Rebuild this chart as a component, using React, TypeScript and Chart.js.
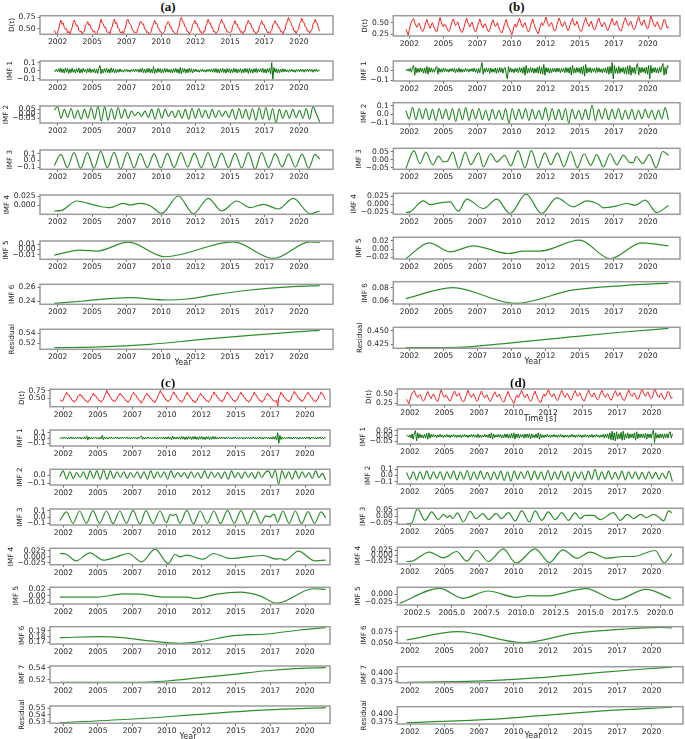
import React, { useEffect, useRef } from 'react';
import { Chart, registerables } from 'chart.js';
Chart.register(...registerables);

// ---------- shared axis data ----------
const T0 = 2002.25;
const T1 = 2021.5;
const YEAR_TICKS = [2002.5, 2005, 2007.5, 2010, 2012.5, 2015, 2017.5, 2020];
const YEAR_LABELS = ['2002', '2005', '2007', '2010', '2012', '2015', '2017', '2020'];
const YEAR_LABELS_DEC = ['2002.5', '2005.0', '2007.5', '2010.0', '2012.5', '2015.0', '2017.5', '2020.0'];

// ---------- panel (a) ----------
const A_DT = [
  .47,.43,.37,.44,.50,.62,
  .69,.60,.63,.53,.49,.51,.41,.45,.38,.47,.53,.64,
  .69,.62,.56,.58,.47,.44,.46,.39,.44,.45,.58,.60,
  .66,.58,.60,.51,.50,.43,.46,.40,.38,.46,.50,.62,
  .71,.63,.61,.53,.54,.45,.42,.44,.40,.50,.55,.66,
  .71,.62,.64,.52,.51,.44,.41,.45,.39,.48,.54,.67,
  .71,.64,.60,.58,.48,.47,.41,.43,.42,.51,.56,.65,
  .66,.60,.61,.50,.49,.42,.44,.39,.41,.44,.56,.60,
  .69,.61,.62,.52,.50,.44,.44,.38,.42,.45,.57,.60,
  .66,.63,.54,.55,.45,.45,.38,.40,.39,.49,.56,.70,
  .75,.66,.65,.55,.54,.45,.45,.39,.44,.46,.59,.62,
  .69,.61,.62,.53,.52,.43,.44,.38,.45,.45,.58,.62,
  .71,.63,.63,.53,.53,.44,.45,.39,.44,.46,.59,.63,
  .71,.63,.62,.52,.51,.43,.44,.42,.43,.44,.57,.60,
  .68,.60,.61,.52,.51,.43,.45,.39,.45,.45,.58,.61,
  .69,.62,.62,.53,.52,.44,.44,.38,.44,.44,.57,.60,
  .68,.60,.60,.51,.50,.42,.44,.37,.45,.47,.59,.62,
  .68,.61,.61,.53,.53,.44,.45,.39,.46,.48,.62,.66,
  .75,.67,.66,.56,.54,.45,.46,.40,.47,.49,.62,.65,
  .73,.65,.64,.55,.54,.45,.46,.40,.46,.48,.60,.63,
  .71,.63,.62,.51,.46,
];
const A_IMF1 = [
  .00,-.01,.02,-.015,.025,-.02,.03,-.025,.02,-.03,.035,-.02,
  .03,-.035,.02,-.025,.03,-.02,.015,-.03,.025,-.02,.035,-.03,
  .02,-.025,.03,-.015,.02,-.03,.025,-.02,.03,-.025,.015,-.02,
  .025,-.03,.02,-.035,.03,.065,-.04,.02,-.03,.025,-.02,.03,
  -.025,.02,-.03,.035,-.02,.025,-.03,.02,-.025,.015,-.02,.025,
  -.015,.01,-.02,.015,-.01,.02,-.015,.01,-.02,.015,-.01,.02,
  -.015,.02,-.01,.015,-.02,.025,-.02,.03,-.025,.02,-.03,.025,
  -.02,.03,-.025,.02,-.03,.05,-.035,.02,-.025,.03,-.02,.025,
  -.03,.02,-.025,.03,-.02,.025,-.02,.015,-.025,.02,-.03,.025,
  -.02,.03,-.025,.02,-.035,.04,-.04,.03,-.02,.025,-.03,.02,
  -.025,.03,-.02,.025,-.03,.02,-.015,.02,-.015,.01,-.02,.015,
  -.01,.02,-.015,.01,-.02,.015,-.01,.02,-.015,.02,-.02,.025,
  -.02,.03,-.025,.02,-.03,.025,-.02,.03,-.025,.02,-.03,.025,
  -.02,.025,-.03,.02,-.025,.03,-.02,.025,-.03,.02,-.02,.025,
  -.03,.02,-.025,.03,-.02,.025,-.035,.03,-.025,.02,-.03,.025,
  -.02,.03,-.025,.02,-.015,.025,-.02,.03,-.025,.02,-.03,.025,
  -.02,.03,-.04,.10,-.11,.04,-.02,.025,-.03,.02,-.025,.02,
  -.02,.025,-.015,.02,-.015,.01,-.02,.015,-.01,.02,-.015,.01,
  -.02,.015,-.01,.02,-.015,.02,-.01,.015,-.02,.015,-.01,.02,
  -.015,.02,-.01,.015,-.02,.015,-.01,.02,-.015,.01,.0,
];
const A_IMF2 = [
  .04,.08,-.05,.05,-.04,.06,-.05,.04,-.06,.05,
  -.05,.07,-.06,.085,-.08,.08,-.07,.06,-.06,.07,
  -.05,.05,-.05,.03,-.02,.02,-.03,.03,-.04,.05,
  -.06,.06,-.05,.05,-.03,.03,-.04,.04,-.05,.05,
  -.06,.06,-.05,.06,-.04,.04,-.05,.05,-.04,.04,
  -.03,.03,-.04,.05,-.06,.06,-.05,.05,-.06,.06,
  -.07,.07,-.06,.07,-.07,.06,-.10,.05,-.05,.04,
  -.05,.05,-.04,.04,-.05,.06,-.06,.08,.0,-.09,
];
const A_IMF3 = [
  [2002.25,-0.075],[2002.74,0.09],[2003.20,-0.105],[2003.68,0.115],[2004.17,-0.115],[2004.65,0.115],
  [2005.13,-0.115],[2005.62,0.135],[2006.10,-0.105],[2006.59,0.12],[2007.07,-0.125],[2007.55,0.115],
  [2008.04,-0.11],[2008.49,0.10],[2009.00,-0.105],[2009.49,0.10],[2009.97,-0.11],[2010.45,0.105],
  [2010.94,-0.105],[2011.44,0.115],[2011.93,-0.095],[2012.41,0.11],[2012.92,-0.105],[2013.40,0.115],
  [2013.88,-0.11],[2014.39,0.11],[2014.88,-0.105],[2015.36,0.105],[2015.84,-0.11],[2016.33,0.115],
  [2016.81,-0.13],[2017.29,0.115],[2017.80,-0.105],[2018.28,0.10],[2018.77,-0.095],[2019.25,0.095],
  [2019.73,-0.10],[2020.22,0.095],[2020.70,-0.115],[2021.16,0.09],[2021.50,0.02],
];
const A_IMF4 = [
  [2002.25,-0.0152],[2002.79,-0.0134],[2003.88,0.0116],[2005.33,-0.0009],[2006.30,-0.0063],
  [2007.26,0.0054],[2007.75,0.0009],[2008.47,0.0054],[2009.20,-0.0009],[2010.04,-0.0214],
  [2011.25,0.025],[2012.34,-0.0223],[2013.43,0.0188],[2014.39,-0.0152],[2015.48,0.0116],
  [2016.45,-0.0063],[2017.41,0.0027],[2018.50,-0.0098],[2019.59,0.0188],[2020.80,-0.0223],[2021.50,-0.0152],
];
const A_IMF5 = [
  [2002.25,-0.0103],[2004.12,-0.0012],[2005.33,-0.003],[2007.62,0.0133],[2010.28,-0.0133],
  [2015.24,0.0139],[2018.14,-0.0164],[2020.80,0.0139],[2021.50,0.0127],
];
const A_IMF6 = [
  [2002.25,0.2366],[2004.36,0.24],[2006.54,0.2439],[2007.75,0.2449],[2010.40,0.2415],
  [2011.85,0.2429],[2014.03,0.2498],[2016.45,0.2561],[2019.59,0.261],[2021.50,0.2624],
];
const A_RES = [
  [2002.25,0.5113],[2005.57,0.5127],[2009.20,0.518],[2012.82,0.5273],[2016.45,0.536],[2021.50,0.546],
];

// ---------- panel (b) / (d) shared signal ----------
const BD_DT = [
  .36,.30,.235,.33,.45,.52,.56,
  .59,.50,.44,.40,.46,.49,.42,.35,.31,.33,.42,.50,
  .57,.49,.43,.38,.45,.50,.44,.37,.32,.30,.40,.52,
  .61,.52,.45,.41,.47,.45,.39,.33,.31,.36,.45,.53,
  .58,.50,.44,.48,.52,.44,.36,.31,.29,.34,.43,.52,
  .60,.51,.46,.41,.47,.51,.43,.35,.30,.33,.44,.50,
  .58,.50,.43,.39,.46,.48,.40,.34,.30,.35,.43,.51,
  .56,.48,.42,.45,.50,.42,.35,.31,.28,.34,.44,.50,
  .57,.47,.40,.36,.30,.24,.32,.42,.47,.40,.45,.53,
  .60,.51,.44,.40,.46,.50,.42,.35,.30,.33,.43,.51,
  .58,.48,.41,.35,.30,.26,.34,.45,.50,.44,.48,.55,
  .62,.53,.46,.42,.48,.51,.43,.36,.32,.36,.46,.54,
  .60,.52,.45,.41,.48,.52,.45,.38,.33,.37,.46,.53,
  .59,.50,.44,.46,.53,.46,.38,.33,.31,.37,.47,.54,
  .61,.52,.46,.42,.49,.53,.45,.38,.34,.38,.47,.55,
  .60,.51,.45,.41,.48,.51,.44,.37,.33,.37,.46,.53,
  .59,.50,.44,.47,.54,.46,.39,.34,.32,.38,.47,.55,
  .61,.52,.46,.43,.50,.53,.45,.38,.35,.39,.49,.57,
  .63,.54,.47,.44,.52,.56,.48,.41,.37,.40,.52,.65,
  .58,.50,.44,.41,.48,.52,.45,.38,.35,.40,.50,.57,
  .55,.45,.38,.42,
];
const B_IMF1 = [
  .01,-.005,.015,-.01,.02,-.02,.03,.05,-.05,.03,-.025,.02,
  -.02,.025,-.015,.02,-.03,.025,-.03,.04,-.04,.03,-.02,.025,
  -.02,.015,-.02,.03,.04,-.04,.025,-.02,.015,-.02,.025,-.015,
  .02,-.015,.01,-.02,.015,-.01,.02,-.015,.02,-.025,.015,-.02,
  .025,-.02,.015,-.02,.01,-.015,.02,-.01,.015,-.02,.015,-.01,
  .02,-.015,.025,-.02,.015,-.03,.02,-.025,.03,.08,-.04,.02,
  -.02,.025,-.015,.02,-.03,.025,-.02,.015,-.02,.025,-.03,.02,
  -.025,.03,-.02,.025,-.03,.02,.03,-.04,-.09,.04,-.02,.025,
  -.02,.015,-.025,.02,-.015,.02,-.025,.03,-.02,.025,-.03,.035,
  -.05,.05,-.03,.02,-.025,.03,-.02,.025,-.03,.02,-.025,.03,
  -.03,.04,-.035,.03,-.04,.06,-.05,.03,-.02,.025,-.03,.02,
  -.025,.02,-.015,.02,-.02,.025,-.015,.02,-.025,.02,-.015,.02,
  -.025,.03,-.02,.025,-.03,.035,-.05,.05,-.03,.02,-.025,.03,
  -.02,.025,-.03,.035,-.04,.045,-.06,.06,-.03,.025,-.02,.03,
  -.025,.02,-.015,.02,-.025,.03,-.02,.025,-.02,.015,-.025,.02,
  -.02,.025,-.03,.035,-.04,.04,-.03,.08,-.09,.05,-.03,.025,
  -.035,.04,-.03,.025,-.02,.03,-.035,.03,-.04,.045,-.04,.05,
  -.05,.03,-.025,.03,-.04,.045,.07,-.05,.03,-.025,.03,-.02,
  .025,-.03,.035,-.04,.05,-.09,.05,-.03,.025,-.02,.03,-.025,
  .02,-.03,.035,-.02,.04,.07,-.05,.03,-.04,.05,.03,
];
const B_IMF2 = [
  .045,-.05,.085,-.06,.07,-.05,.07,-.06,.06,-.07,
  .07,-.05,.06,-.06,.07,-.08,.07,-.06,.08,-.07,
  .06,-.05,.07,-.06,.05,-.07,.06,-.05,.05,-.06,
  .07,-.10,.07,-.06,.06,-.05,.07,-.07,.06,-.05,
  .05,-.06,.08,-.07,.07,-.06,.06,-.06,.07,-.10,
  .06,-.05,.05,-.06,.06,-.06,.11,-.07,.06,-.05,
  .07,-.06,.06,-.05,.07,-.06,.05,-.05,.06,-.06,
  .05,-.05,.06,-.04,.05,-.06,.05,-.05,.08,-.06,
];
const B_IMF3 = [
  [2002.25,-0.055],[2002.84,0.057],[2003.28,-0.0245],[2003.72,0.047],[2004.21,-0.031],[2004.65,0.022],
  [2004.99,-0.014],[2005.29,-0.010],[2005.68,0.047],[2006.12,-0.055],[2006.61,0.047],[2007.00,-0.031],
  [2007.59,0.043],[2007.93,-0.045],[2008.47,0.037],[2008.91,-0.014],[2009.49,0.027],[2009.93,-0.039],
  [2010.47,0.057],[2010.98,-0.051],[2011.45,0.057],[2011.94,-0.051],[2012.43,0.043],[2012.87,-0.031],
  [2013.36,0.043],[2013.84,-0.045],[2014.33,0.051],[2014.82,-0.051],[2015.31,0.037],[2015.80,-0.035],
  [2016.24,0.031],[2016.73,-0.045],[2017.22,0.037],[2017.71,-0.031],[2018.20,0.027],[2018.69,-0.018],
  [2018.93,-0.018],[2019.13,0.02],[2019.61,-0.0245],[2020.10,0.031],[2020.59,-0.051],[2021.08,0.051],
  [2021.50,0.027],
];
const B_IMF4 = [
  [2002.25,-0.0255],[2002.55,-0.0235],[2003.53,0.0102],[2004.02,-0.001],[2004.75,0.0041],[2005.48,0.0071],
  [2006.09,-0.0214],[2006.71,0.0153],[2007.93,-0.0133],[2008.91,0.0153],[2009.88,-0.0286],[2011.06,0.0306],
  [2012.21,-0.0286],[2013.31,0.0194],[2014.53,-0.0082],[2015.51,0.0102],[2016.36,0.0],[2016.73,-0.0112],
  [2017.71,-0.0051],[2018.44,0.002],[2019.05,-0.0031],[2019.79,0.0122],[2020.64,-0.0255],[2021.50,-0.0041],
];
const B_IMF5 = [
  [2002.25,-0.0229],[2003.97,0.0155],[2005.48,-0.0065],[2007.19,0.0082],[2009.76,-0.0106],[2010.86,-0.0049],
  [2012.08,-0.0049],[2014.97,0.022],[2017.22,-0.0229],[2019.54,0.0155],[2021.50,0.0082],
];
const B_IMF6 = [
  [2002.25,0.0631],[2005.68,0.08],[2010.25,0.0559],[2014.53,0.0764],[2018.20,0.0831],[2021.50,0.0867],
];
const B_RES = [
  [2002.25,0.4189],[2005.97,0.4195],[2009.64,0.4268],[2014.53,0.439],[2018.20,0.4476],[2021.50,0.4543],
];

// ---------- panel (c) ----------
const C_DT = [
  .46,.42,.41,.43,.55,.60,
  .70,.62,.62,.53,.52,.43,.43,.37,.44,.45,.57,.58,
  .64,.57,.58,.49,.49,.41,.42,.36,.43,.44,.55,.59,
  .67,.59,.60,.51,.50,.42,.43,.37,.44,.46,.59,.64,
  .76,.66,.64,.54,.52,.43,.44,.38,.45,.47,.58,.60,
  .67,.60,.60,.51,.50,.42,.42,.36,.43,.45,.58,.62,
  .70,.62,.61,.52,.51,.42,.42,.34,.42,.45,.57,.61,
  .67,.59,.59,.50,.49,.41,.42,.36,.44,.47,.60,.66,
  .76,.66,.64,.54,.53,.44,.44,.38,.45,.46,.58,.62,
  .71,.62,.61,.51,.50,.42,.43,.37,.44,.45,.57,.61,
  .70,.61,.60,.50,.49,.41,.42,.35,.42,.44,.55,.58,
  .67,.59,.59,.50,.50,.42,.43,.37,.44,.46,.58,.62,
  .71,.62,.62,.53,.52,.43,.44,.38,.45,.46,.58,.62,
  .71,.63,.62,.52,.51,.43,.44,.38,.45,.46,.58,.61,
  .70,.62,.61,.52,.51,.43,.43,.37,.44,.45,.57,.60,
  .70,.61,.61,.51,.50,.42,.43,.37,.44,.45,.56,.59,
  .67,.59,.59,.50,.49,.42,.43,.38,.44,.23,.52,.60,
  .70,.62,.61,.52,.51,.43,.44,.38,.45,.47,.60,.65,
  .73,.64,.63,.53,.52,.44,.45,.39,.46,.48,.59,.62,
  .70,.62,.61,.52,.51,.43,.44,.38,.45,.47,.59,.63,
  .71,.63,.61,.50,.45,
];
const C_IMF1 = [
  .0,-.01,.015,-.01,.02,-.015,.01,-.02,.015,-.01,.02,-.015,
  .015,-.02,.01,-.015,.02,-.01,.015,-.02,.01,-.015,.02,-.02,
  .04,-.04,.02,-.015,.01,-.02,.015,-.01,.02,-.015,.01,-.02,
  .015,-.02,.05,-.03,.02,-.015,.01,-.02,.015,-.01,.02,-.015,
  .01,-.015,.02,-.01,.015,-.02,.01,-.015,.02,-.01,.015,-.01,
  .02,-.015,.01,-.02,.015,-.01,.02,-.015,.01,-.02,.015,-.01,
  .02,.04,-.025,.015,-.02,.01,-.015,.02,-.01,.015,-.02,.015,
  -.01,.02,-.015,.01,-.02,.015,-.01,.02,-.015,.02,-.02,.015,
  -.02,.025,-.02,.015,-.035,.035,-.02,.015,-.02,.02,-.015,.02,
  -.025,.03,-.02,.025,-.03,.02,-.025,.03,-.02,.025,-.03,.025,
  -.02,.03,-.025,.02,-.03,.025,-.02,.03,-.025,.02,-.03,.025,
  -.02,.025,-.03,.02,-.025,.03,-.02,.025,-.02,.015,-.02,.02,
  -.015,.02,-.01,.015,-.02,.015,-.01,.02,-.015,.01,-.02,.015,
  -.01,.02,-.015,.01,-.02,.015,-.01,.015,-.02,.01,-.015,.02,
  -.01,.015,-.02,.01,-.015,.02,-.01,.015,-.02,.015,-.01,.02,
  -.015,.01,-.02,.015,-.01,.02,-.015,.01,-.02,.015,-.02,.025,
  -.02,.03,-.04,.10,-.10,.05,-.03,.02,-.015,.01,-.02,.015,
  -.01,.02,-.015,.01,-.02,.015,-.01,.02,-.015,.01,-.02,.015,
  -.01,.015,-.02,.01,-.015,.02,-.01,.02,-.025,.015,-.01,.02,
  -.015,.01,-.02,.015,-.01,.02,-.015,.01,-.02,.01,.0,
];
const C_IMF2 = [
  -.02,.05,-.05,.04,-.04,.03,-.03,.04,-.05,.05,
  -.04,.05,-.05,.06,-.05,.05,-.04,.04,-.03,.04,
  -.04,.03,-.03,.04,-.04,.04,-.05,.05,-.04,.04,
  -.03,.04,-.05,.05,-.03,.03,-.02,.03,-.04,.04,
  -.03,.03,-.04,.05,-.04,.04,-.03,.03,-.04,.04,
  -.05,.05,-.03,.03,-.04,.04,-.03,.03,-.04,.04,
  -.03,.03,.05,-.03,.06,-.11,.05,-.04,.04,-.05,
  .05,-.04,.04,-.03,.03,-.04,.05,-.03,.02,-.06,
];
const C_IMF3 = [
  [2002.25,-0.055],[2002.74,0.085],[2003.20,-0.10],[2003.68,0.10],[2004.17,-0.10],[2004.65,0.105],
  [2005.13,-0.10],[2005.62,0.10],[2006.10,-0.105],[2006.59,0.10],[2007.07,-0.10],[2007.55,0.11],
  [2008.04,-0.11],[2008.49,0.105],[2009.00,-0.10],[2009.49,0.10],[2009.97,-0.09],[2010.25,0.04],
  [2010.45,0.03],[2010.65,0.045],[2010.94,-0.10],[2011.44,0.11],[2011.93,-0.11],[2012.41,0.10],
  [2012.92,-0.10],[2013.40,0.10],[2013.88,-0.105],[2014.39,0.11],[2014.88,-0.10],[2015.36,0.105],
  [2015.84,-0.105],[2016.33,0.105],[2016.81,-0.10],[2017.15,0.02],[2017.45,0.005],[2017.75,0.05],
  [2018.02,-0.08],[2018.40,0.10],[2018.85,-0.10],[2019.30,0.10],[2019.75,-0.105],[2020.22,0.09],
  [2020.70,-0.10],[2021.16,0.085],[2021.50,-0.01],
];
const C_IMF4 = [
  [2002.25,0.0143],[2002.74,0.01],[2003.42,-0.0171],[2004.43,0.0171],[2005.40,-0.0143],[2006.36,0.0],
  [2007.21,0.0143],[2008.17,-0.0214],[2009.14,0.0329],[2010.10,-0.0286],[2010.59,0.01],[2010.95,0.0],
  [2011.43,0.0071],[2012.64,-0.01],[2013.36,0.0143],[2014.57,-0.0071],[2015.78,0.0],[2016.98,0.0057],
  [2017.95,-0.01],[2018.19,-0.0071],[2018.55,-0.0143],[2019.52,0.0243],[2020.72,-0.0171],[2021.50,-0.0143],
];
const C_IMF5 = [
  [2002.25,-0.0041],[2004.91,-0.0041],[2006.84,0.0062],[2008.05,0.0051],[2009.98,-0.0041],[2011.43,-0.0041],
  [2012.15,-0.0082],[2013.60,0.0051],[2015.29,0.0113],[2016.74,0.0],[2017.95,-0.0226],[2020.60,0.0215],
  [2021.50,0.0195],
];
const C_IMF6 = [
  [2002.25,0.1782],[2005.15,0.18],[2006.60,0.1788],[2008.78,0.1724],[2010.95,0.1682],[2012.40,0.1712],
  [2014.81,0.1818],[2017.22,0.1847],[2019.64,0.1918],[2021.50,0.1959],
];
const C_IMF7 = [
  [2002.25,0.516],[2007.20,0.5163],[2009.98,0.5184],[2012.40,0.5238],[2014.81,0.5292],[2017.22,0.5351],
  [2019.64,0.5389],[2021.50,0.54],
];
const C_RES = [
  [2002.25,0.5285],[2007.57,0.534],[2012.40,0.541],[2017.22,0.5475],[2021.50,0.551],
];

// ---------- panel (d) ----------
const D_IMF1 = [
  .0,.005,-.01,.01,-.02,.02,-.03,.03,.05,-.045,.03,-.02,
  .02,-.015,.01,-.02,.015,-.02,.025,-.03,.03,-.02,.015,-.01,
  .015,-.01,.01,-.015,.01,-.01,.015,-.01,.01,-.015,.01,-.01,
  .015,-.01,.01,-.015,.01,-.01,.015,-.01,.01,-.015,.01,-.01,
  .01,-.015,.01,-.01,.015,-.01,.01,-.015,.01,-.01,.015,-.01,
  .015,-.01,.01,-.015,.02,-.015,.01,-.015,.01,-.01,.015,-.01,
  .01,-.015,.02,-.02,.03,-.03,.02,-.015,.01,-.01,.015,-.01,
  .015,-.02,.01,-.015,.02,-.015,.02,-.02,.015,-.02,.025,-.02,
  .03,-.03,.02,-.015,.02,-.02,.015,-.01,.015,-.02,.02,-.015,
  .02,-.015,.02,-.025,.02,-.015,.01,-.015,.02,-.02,.03,-.03,
  .02,-.015,.01,-.015,.01,-.01,.015,-.01,.01,-.015,.01,-.01,
  .015,-.01,.01,-.015,.01,-.01,.015,-.01,.01,-.015,.01,-.01,
  .01,-.015,.01,-.01,.015,-.01,.01,-.015,.01,-.01,.015,-.01,
  .01,-.015,.01,-.01,.015,-.01,.01,-.015,.01,-.01,.015,-.015,
  .01,-.01,.015,-.01,.01,-.015,.01,-.01,.015,-.02,.02,-.015,
  .02,-.025,.03,-.035,.045,-.04,.03,-.045,.04,-.03,.02,-.025,
  .035,-.04,.045,-.035,.02,-.02,.03,-.025,.02,-.015,.02,-.02,
  .03,-.04,.04,-.025,.02,-.015,.02,-.015,.02,-.02,.025,-.03,
  .02,-.015,.02,-.02,.03,.055,-.06,.03,-.02,.015,-.02,.02,
  -.015,.02,-.025,.02,-.015,.02,-.02,.03,.04,-.02,.02,
];
const D_IMF2 = [
  .05,-.06,.06,-.07,.06,-.06,.07,-.06,.06,-.05,
  .06,-.07,.06,-.05,.07,-.07,.06,-.06,.08,-.07,
  .06,-.06,.07,-.06,.05,-.07,.06,-.06,.07,-.08,
  .06,-.09,.07,-.06,.06,-.05,.07,-.07,.07,-.06,
  .06,-.07,.08,-.07,.06,-.06,.07,-.07,.06,-.09,
  .06,-.05,.06,-.07,.07,-.06,.10,-.07,.06,-.06,
  .07,-.06,.05,-.06,.07,-.07,.06,-.05,.06,-.06,
  .05,-.06,.06,-.05,.05,-.06,.04,-.05,.07,-.10,
];
const D_IMF3 = [
  [2002.25,-0.058],[2002.62,-0.053],[2003.03,0.0605],[2003.59,-0.0316],[2004.07,0.0342],[2004.55,-0.0263],
  [2004.92,0.0158],[2005.21,-0.0105],[2005.40,0.0079],[2005.59,-0.0184],[2005.93,0.0263],[2006.36,-0.0447],
  [2006.85,0.0395],[2007.28,-0.0184],[2007.77,0.0211],[2008.18,-0.0263],[2008.73,0.0211],[2009.14,-0.0184],
  [2009.63,0.0289],[2010.11,-0.0368],[2010.59,0.0421],[2011.15,-0.0447],[2011.56,0.0421],[2012.04,-0.0316],
  [2012.52,0.0342],[2013.01,-0.0263],[2013.49,0.0289],[2013.97,-0.0316],[2014.46,0.0263],[2014.82,-0.0184],
  [2015.18,0.0079],[2015.79,0.0079],[2016.27,-0.0263],[2017.23,0.0289],[2017.72,-0.0316],[2018.25,0.0158],
  [2018.68,-0.0184],[2019.21,0.0158],[2019.60,-0.0105],[2020.13,0.0158],[2020.50,-0.0053],[2020.86,-0.0368],
  [2021.22,0.0421],[2021.46,0.0289],
];
const D_IMF4 = [
  [2002.25,-0.0273],[2002.62,-0.0258],[2003.90,0.0152],[2004.92,-0.0106],[2005.88,0.0182],[2006.61,-0.0258],
  [2007.33,0.0227],[2008.18,-0.0273],[2009.26,0.0303],[2010.18,-0.0348],[2011.56,0.0303],[2012.60,-0.0318],
  [2013.56,0.0258],[2014.58,-0.0121],[2015.54,0.0152],[2016.75,-0.0121],[2017.96,-0.0045],[2018.68,-0.0045],
  [2020.25,0.0227],[2020.91,-0.0333],[2021.46,0.0076],
];
const D_IMF5 = [
  [2001.25,-0.0281],[2004.13,0.0188],[2005.81,-0.0125],[2007.61,0.0104],[2009.64,-0.0094],[2010.60,-0.0042],
  [2011.80,-0.0052],[2014.68,0.0177],[2016.84,-0.0177],[2018.99,0.0156],[2020.79,-0.0125],
];
const D_IMF6 = [
  [2002.25,0.0561],[2005.96,0.075],[2010.71,0.05],[2014.34,0.0712],[2017.96,0.0811],[2020.62,0.0848],[2021.46,0.0835],
];
const D_IMF7 = [
  [2002.25,0.373],[2005.88,0.375],[2008.30,0.378],[2011.92,0.387],[2015.54,0.40],[2019.17,0.412],[2021.46,0.418],
];
const D_RES = [
  [2002.25,0.374],[2005.88,0.3792],[2009.50,0.3875],[2013.13,0.40],[2016.75,0.4115],[2021.46,0.422],
];

// ---------- helpers ----------
type Pt = { x: number; y: number };
const uni = (vals: number[]): Pt[] =>
  vals.map((v, i) => ({ x: T0 + (i * (T1 - T0)) / (vals.length - 1), y: v }));
const knots = (pairs: number[][]): Pt[] => pairs.map(([x, y]) => ({ x, y }));

const RED = '#ff1f1f';
const G_DARK = '#0d720d';
const G_MID = '#1f861f';
const G_SMOOTH = '#2f8f2f';
const FRAME = '#9b9b9b';
const TXT = '#262626';
const TICK_FONT = { family: 'DejaVu Sans', size: 7.6 };
const TICK_LEN = 2.5;
const Y_PAD = 2;

type Sub = {
  label: string; pts: Pt[]; color: string; lw: number; smooth: boolean;
  top: number; bottom: number; yMin: number; yMax: number; yT: number[]; yL: string[];
  xL?: string[]; t1?: number; t2?: number;
};
type Panel = {
  x0: number; left: number; right: number; t1: number; t2: number;
  title: string; titleX: number; titleY: number;
  xTitle: string; xTitleX: number; xTitleY: number; subs: Sub[];
};

const raw = (label: string, pts: Pt[], color: string, lw: number, top: number, bottom: number,
  yMin: number, yMax: number, yT: number[], yL: string[]): Sub =>
  ({ label, pts, color, lw, smooth: false, top, bottom, yMin, yMax, yT, yL });
const smooth = (label: string, pts: Pt[], top: number, bottom: number,
  yMin: number, yMax: number, yT: number[], yL: string[], extra: Partial<Sub> = {}): Sub =>
  ({ label, pts, color: G_SMOOTH, lw: 1.2, smooth: true, top, bottom, yMin, yMax, yT, yL, ...extra });

const PANELS: Panel[] = [
  {
    x0: 0, left: 40, right: 333, t1: 57.7, t2: 299, title: '(a)', titleX: 168, titleY: 7,
    xTitle: 'Year', xTitleX: 183, xTitleY: 362,
    subs: [
      raw('D(t)', uni(A_DT), RED, 1, 15.7, 34.3, 0.386, 0.785, [0.5, 0.75], ['0.50', '0.75']),
      raw('IMF 1', uni(A_IMF1), G_DARK, 1, 61, 80, -0.117, 0.121, [-0.1, 0, 0.1], ['\u22120.1', '0.0', '0.1']),
      smooth('IMF 2', uni(A_IMF2), 106, 123, -0.102, 0.087, [-0.05, 0, 0.05], ['\u22120.05', '0.00', '0.05'], { color: G_MID, lw: 1.1 }),
      smooth('IMF 3', knots(A_IMF3), 150, 169.3, -0.13, 0.155, [-0.1, 0, 0.1], ['\u22120.1', '0.0', '0.1']),
      smooth('IMF 4', knots(A_IMF4), 195, 214.3, -0.024, 0.0277, [0, 0.025], ['0.000', '0.025']),
      smooth('IMF 5', knots(A_IMF5), 241, 259.3, -0.018, 0.0155, [-0.01, 0, 0.01], ['\u22120.01', '0.00', '0.01']),
      smooth('IMF 6', knots(A_IMF6), 284.3, 304.3, 0.2352, 0.2644, [0.24, 0.26], ['0.24', '0.26']),
      smooth('Residual', knots(A_RES), 329.3, 349.3, 0.508, 0.548, [0.52, 0.54], ['0.52', '0.54']),
    ],
  },
  {
    x0: 340, left: 393.3, right: 680, t1: 409.3, t2: 648, title: '(b)', titleX: 516.7, titleY: 7,
    xTitle: 'Year', xTitleX: 533, xTitleY: 361,
    subs: [
      raw('D(t)', uni(BD_DT), RED, 1, 15.7, 36, 0.214, 0.65, [0.25, 0.5], ['0.25', '0.50']),
      raw('IMF 1', uni(B_IMF1), G_DARK, 1, 61, 81, -0.11, 0.096, [-0.1, 0], ['\u22120.1', '0.0']),
      smooth('IMF 2', uni(B_IMF2), 102.7, 124, -0.11, 0.137, [-0.1, 0, 0.1], ['\u22120.1', '0.0', '0.1'], { color: G_MID, lw: 1.1 }),
      smooth('IMF 3', knots(B_IMF3), 148.3, 169.3, -0.06, 0.071, [-0.05, 0, 0.05], ['\u22120.05', '0.00', '0.05']),
      smooth('IMF 4', knots(B_IMF4), 193.3, 214.3, -0.031, 0.0333, [-0.025, 0, 0.025], ['\u22120.025', '0.000', '0.025']),
      smooth('IMF 5', knots(B_IMF5), 237.3, 259, -0.024, 0.029, [-0.02, 0, 0.02], ['\u22120.02', '0.00', '0.02']),
      smooth('IMF 6', knots(B_IMF6), 281.7, 304, 0.055, 0.089, [0.06, 0.08], ['0.06', '0.08']),
      smooth('Residual', knots(B_RES), 327.3, 348.3, 0.4176, 0.4562, [0.425, 0.45], ['0.425', '0.450']),
    ],
  },
  {
    x0: 0, left: 50, right: 330, t1: 63.3, t2: 305, title: '(c)', titleX: 168, titleY: 383,
    xTitle: 'Year', xTitleX: 188, xTitleY: 736,
    subs: [
      raw('D(t)', uni(C_DT), RED, 1, 389.3, 406.7, 0.227, 0.795, [0.5, 0.75], ['0.50', '0.75']),
      raw('IMF 1', uni(C_IMF1), G_DARK, 1, 430, 446, -0.15, 0.15, [-0.1, 0, 0.1], ['\u22120.1', '0.0', '0.1']),
      smooth('IMF 2', uni(C_IMF2), 469.3, 485, -0.12, 0.069, [-0.1, 0], ['\u22120.1', '0.0'], { color: G_MID, lw: 1.1 }),
      smooth('IMF 3', knots(C_IMF3), 509, 525, -0.127, 0.132, [-0.1, 0, 0.1], ['\u22120.1', '0.0', '0.1']),
      smooth('IMF 4', knots(C_IMF4), 548.3, 564.7, -0.0335, 0.0365, [-0.025, 0, 0.025], ['\u22120.025', '0.000', '0.025']),
      smooth('IMF 5', knots(C_IMF5), 587.3, 604, -0.025, 0.026, [-0.02, 0, 0.02], ['\u22120.02', '0.00', '0.02']),
      smooth('IMF 6', knots(C_IMF6), 626.7, 644, 0.167, 0.1976, [0.17, 0.18, 0.19], ['0.17', '0.18', '0.19']),
      smooth('IMF 7', knots(C_IMF7), 666, 682.7, 0.5156, 0.5428, [0.52, 0.54], ['0.52', '0.54']),
      smooth('Residual', knots(C_RES), 706, 723.3, 0.5276, 0.5534, [0.53, 0.54, 0.55], ['0.53', '0.54', '0.55']),
    ],
  },
  {
    x0: 340, left: 397.3, right: 683, t1: 410, t2: 651.7, title: '(d)', titleX: 518, titleY: 383,
    xTitle: 'Year', xTitleX: 533, xTitleY: 735,
    subs: [
      raw('D(t)', uni(BD_DT), RED, 1, 389, 405, 0.204, 0.634, [0.25, 0.5], ['0.25', '0.50']),
      raw('IMF 1', uni(D_IMF1), G_DARK, 1, 429, 444, -0.0755, 0.066, [-0.05, 0, 0.05], ['\u22120.05', '0.00', '0.05']),
      smooth('IMF 2', uni(D_IMF2), 466.7, 484, -0.137, 0.142, [-0.1, 0, 0.1], ['\u22120.1', '0.0', '0.1'], { color: G_MID, lw: 1.1 }),
      smooth('IMF 3', knots(D_IMF3), 508.3, 524.3, -0.063, 0.063, [-0.05, 0, 0.05], ['\u22120.05', '0.00', '0.05']),
      smooth('IMF 4', knots(D_IMF4), 547.3, 564, -0.0386, 0.0373, [-0.025, 0, 0.025], ['\u22120.025', '0.000', '0.025']),
      smooth('IMF 5', knots(D_IMF5), 587.3, 605, -0.0334, 0.0219, [-0.025, 0], ['\u22120.025', '0.000'], { xL: YEAR_LABELS_DEC, t1: 417, t2: 660 }),
      smooth('IMF 6', knots(D_IMF6), 626.7, 643.3, 0.0486, 0.0864, [0.05, 0.075], ['0.050', '0.075']),
      smooth('IMF 7', knots(D_IMF7), 666.7, 682.7, 0.372, 0.4196, [0.375, 0.4], ['0.375', '0.400']),
      smooth('Residual', knots(D_RES), 706.7, 724, 0.3697, 0.4238, [0.375, 0.4], ['0.375', '0.400']),
    ],
  },
];

function makePlugins(label: string) {
  return [
    {
      id: 'frame',
      afterDatasetsDraw(chart: any) {
        const { ctx, chartArea: a } = chart;
        ctx.save();
        ctx.strokeStyle = FRAME;
        ctx.lineWidth = 1.5;
        ctx.strokeRect(a.left, a.top, a.right - a.left, a.bottom - a.top);
        ctx.restore();
      },
    },
    {
      id: 'ylab',
      afterDraw(chart: any) {
        const { ctx, chartArea: a } = chart;
        const ys = chart.scales.y;
        ctx.save();
        ctx.font = `${TICK_FONT.size}px "${TICK_FONT.family}"`;
        let w = 0;
        for (const t of ys.ticks) w = Math.max(w, ctx.measureText(String(t.label)).width);
        const x = Math.max(4, a.left - TICK_LEN - Y_PAD - w - 6.5);
        ctx.translate(x, (a.top + a.bottom) / 2);
        ctx.rotate(-Math.PI / 2);
        ctx.font = '7.2px "DejaVu Sans"';
        ctx.fillStyle = TXT;
        ctx.textAlign = 'center';
        ctx.textBaseline = 'middle';
        ctx.fillText(label, 0, 0);
        ctx.restore();
      },
    },
  ];
}

function Plot({ p, s }: { p: Panel; s: Sub }) {
  const ref = useRef<HTMLCanvasElement>(null);
  const cl = p.x0;
  const ct = Math.floor(s.top - 8);
  const cw = Math.ceil(p.right + 6 - cl);
  const ch = Math.ceil(s.bottom + 14 - ct);
  useEffect(() => {
    const t1 = s.t1 ?? p.t1;
    const t2 = s.t2 ?? p.t2;
    const ppy = (t2 - t1) / 17.5;
    const xMin = 2002.5 - (t1 - p.left) / ppy;
    const xMax = 2020 + (p.right - t2) / ppy;
    const padTop = s.top - ct;
    const yW = p.left - cl;
    const xH = ch - (s.bottom - ct);
    const padRight = cw - (p.right - cl);
    const xL = s.xL ?? YEAR_LABELS;
    const chart = new Chart(ref.current as HTMLCanvasElement, {
      type: 'line',
      data: {
        datasets: [{
          data: s.pts, borderColor: s.color, borderWidth: s.lw, pointRadius: 0, fill: false,
          tension: 0, cubicInterpolationMode: s.smooth ? 'monotone' : 'default',
        }],
      },
      options: {
        animation: false, responsive: false, events: [],
        layout: { padding: { top: padTop, right: padRight, left: 0, bottom: 0 } },
        plugins: { legend: { display: false }, tooltip: { enabled: false }, title: { display: false } },
        scales: {
          x: {
            type: 'linear', min: xMin, max: xMax, bounds: 'data',
            afterBuildTicks: (ax: any) => { ax.ticks = YEAR_TICKS.map((v) => ({ value: v })); },
            afterFit: (ax: any) => { ax.height = xH; },
            ticks: {
              autoSkip: false, maxRotation: 0, minRotation: 0, padding: 1, color: TXT, font: TICK_FONT,
              callback: (_v: any, i: number) => xL[i],
            },
            grid: { drawOnChartArea: false, drawTicks: true, tickLength: TICK_LEN, tickColor: '#444', tickWidth: 0.8 },
            border: { display: false },
          },
          y: {
            type: 'linear', min: s.yMin, max: s.yMax, bounds: 'data',
            afterBuildTicks: (ax: any) => { ax.ticks = s.yT.map((v) => ({ value: v })); },
            afterFit: (ax: any) => { ax.width = yW; },
            ticks: {
              autoSkip: false, padding: Y_PAD, color: TXT, font: TICK_FONT,
              callback: (_v: any, i: number) => s.yL[i],
            },
            grid: { drawOnChartArea: false, drawTicks: true, tickLength: TICK_LEN, tickColor: '#444', tickWidth: 0.8 },
            border: { display: false },
          },
        },
      } as any,
      plugins: makePlugins(s.label) as any,
    });
    return () => chart.destroy();
  }, []);
  return (
    <canvas
      ref={ref}
      width={cw}
      height={ch}
      style={{ position: 'absolute', left: cl, top: ct, width: cw, height: ch }}
    />
  );
}

export default function App() {
  return (
    <div style={{ position: 'absolute', left: 0, top: 0, width: 685, height: 739, background: '#fff', overflow: 'hidden' }}>
      {PANELS.map((p, pi) => (
        <React.Fragment key={pi}>
          <div
            style={{
              position: 'absolute', left: p.titleX, top: p.titleY, transform: 'translate(-50%, -50%)',
              font: 'bold 13px "Liberation Serif", serif', color: '#111', whiteSpace: 'nowrap',
            }}
          >
            {p.title}
          </div>
          {p.subs.map((s, si) => (
            <Plot key={si} p={p} s={s} />
          ))}
          <div
            style={{
              position: 'absolute', left: p.xTitleX, top: p.xTitleY, transform: 'translate(-50%, -50%)',
              font: '8px "DejaVu Sans", sans-serif', color: TXT, whiteSpace: 'nowrap',
            }}
          >
            {p.xTitle}
          </div>
        </React.Fragment>
      ))}
      <div
        style={{
          position: 'absolute', left: 540, top: 418, transform: 'translate(-50%, -50%)',
          font: '8px "DejaVu Sans", sans-serif', color: TXT, whiteSpace: 'nowrap',
        }}
      >
        Time [s]
      </div>
    </div>
  );
}
